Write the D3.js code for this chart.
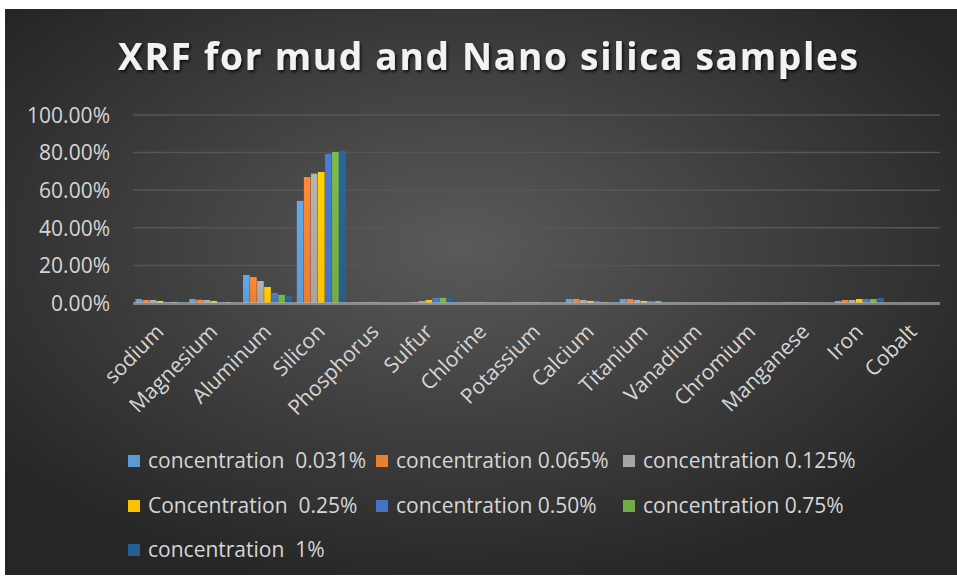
<!DOCTYPE html>
<html>
<head>
<meta charset="utf-8">
<script src="https://cdn.jsdelivr.net/npm/d3@7"></script>
<style>
  html, body { margin: 0; padding: 0; background: #ffffff; }
  svg { display: block; }
  text { font-family: "Open Sans", "Noto Sans", sans-serif; }
</style>
</head>
<body>
<svg id="chart" width="957" height="581"></svg>
<script>
// Elements measured by XRF
const categories = ["sodium", "Magnesium", "Aluminum", "Silicon", "Phosphorus", "Sulfur", "Chlorine",
  "Potassium", "Calcium", "Titanium", "Vanadium", "Chromium", "Manganese", "Iron", "Cobalt"];

// Series names (Nano silica concentration)
const seriesNames = ["concentration  0.031%", "concentration 0.065%", "concentration 0.125%",
  "Concentration  0.25%", "concentration 0.50%", "concentration 0.75%", "concentration  1%"];

// Element fractions for each concentration
const conc0031 = [0.021, 0.021, 0.149, 0.543, 0.002, 0.002, 0.002, 0.002, 0.021, 0.021, 0.001, 0.001, 0.002, 0.011, 0.001];
const conc0065 = [0.016, 0.017, 0.138, 0.670, 0.002, 0.005, 0.002, 0.002, 0.021, 0.021, 0.001, 0.001, 0.002, 0.016, 0.001];
const conc0125 = [0.016, 0.016, 0.117, 0.688, 0.002, 0.010, 0.002, 0.002, 0.016, 0.016, 0.001, 0.001, 0.002, 0.016, 0.001];
const conc025  = [0.011, 0.011, 0.085, 0.697, 0.002, 0.016, 0.002, 0.002, 0.011, 0.011, 0.001, 0.001, 0.002, 0.021, 0.001];
const conc050  = [0.006, 0.005, 0.053, 0.793, 0.001, 0.027, 0.001, 0.001, 0.011, 0.011, 0.001, 0.001, 0.001, 0.021, 0.001];
const conc075  = [0.006, 0.005, 0.043, 0.803, 0.001, 0.027, 0.001, 0.001, 0.005, 0.011, 0.001, 0.001, 0.001, 0.021, 0.001];
const conc1    = [0.005, 0.003, 0.037, 0.809, 0.001, 0.027, 0.001, 0.001, 0.005, 0.006, 0.001, 0.001, 0.001, 0.027, 0.001];

const seriesValues = [conc0031, conc0065, conc0125, conc025, conc050, conc075, conc1];
const seriesColors = ["#5b9bd5", "#ed7d31", "#a5a5a5", "#ffc000", "#4472c4", "#70ad47", "#255e91"];

const yTicks = [0, 0.2, 0.4, 0.6, 0.8, 1.0];
const title = "XRF for mud and Nano silica samples";

const svg = d3.select("#chart");
const W = 957, H = 581;
const defs = svg.append("defs");

// Dark chart-area background with a soft central glow
const bg = defs.append("radialGradient").attr("id", "bgGrad")
  .attr("cx", "48%").attr("cy", "42%").attr("r", "62%");
bg.append("stop").attr("offset", "0%").attr("stop-color", "#5a5a5a");
bg.append("stop").attr("offset", "100%").attr("stop-color", "#262626");
svg.append("rect").attr("x", 5).attr("y", 9).attr("width", W - 5).attr("height", 566)
  .attr("fill", "url(#bgGrad)");

// Subtle vertical shading for bars
seriesColors.forEach((c, i) => {
  const g = defs.append("linearGradient").attr("id", "barGrad" + i)
    .attr("x1", 0).attr("y1", 0).attr("x2", 0).attr("y2", 1);
  g.append("stop").attr("offset", "0%").attr("stop-color", d3.color(c).brighter(0.25));
  g.append("stop").attr("offset", "100%").attr("stop-color", c);
});

// Title shadow
const sh = defs.append("filter").attr("id", "shadow").attr("x", "-10%").attr("y", "-30%")
  .attr("width", "120%").attr("height", "160%");
sh.append("feDropShadow").attr("dx", 1.5).attr("dy", 2).attr("stdDeviation", 1.5)
  .attr("flood-color", "#000").attr("flood-opacity", 0.75);

const plot = { left: 133, right: 940, top: 115, bottom: 303 };

const x0 = d3.scaleBand().domain(categories).range([plot.left, plot.right])
  .paddingInner(0.09).paddingOuter(0.045);
const x1 = d3.scaleBand().domain(d3.range(seriesNames.length)).range([0, x0.bandwidth()])
  .paddingInner(0.06);
const y = d3.scaleLinear().domain([0, 1]).range([plot.bottom, plot.top]);

// Horizontal gridlines
svg.append("g").selectAll("line").data(yTicks.filter(t => t > 0)).join("line")
  .attr("x1", plot.left).attr("x2", plot.right)
  .attr("y1", d => y(d)).attr("y2", d => y(d))
  .attr("stroke", "#565656").attr("stroke-width", 1.5);

// Y axis labels
const yAxis = d3.axisLeft(y).tickValues(yTicks).tickFormat(d3.format(".2%")).tickSize(0).tickPadding(0);
const yg = svg.append("g").attr("transform", `translate(${plot.left - 23},0)`).call(yAxis);
yg.select(".domain").remove();
yg.selectAll("text").attr("fill", "#d6d6d6").attr("font-size", 21)
  .attr("font-family", "'Open Sans', sans-serif").attr("dy", "0.35em");

// Bars
const groups = svg.append("g").selectAll("g").data(categories).join("g")
  .attr("transform", d => `translate(${x0(d)},0)`);
groups.selectAll("rect")
  .data((c, ci) => seriesValues.map((vals, si) => ({ si, v: vals[ci] })))
  .join("rect")
  .attr("x", d => x1(d.si))
  .attr("width", x1.bandwidth())
  .attr("y", d => y(d.v))
  .attr("height", d => y(0) - y(d.v))
  .attr("fill", d => `url(#barGrad${d.si})`);

// Category axis line
svg.append("line").attr("x1", plot.left).attr("x2", plot.right)
  .attr("y1", plot.bottom + 0.5).attr("y2", plot.bottom + 0.5)
  .attr("stroke", "#b8b8b8").attr("stroke-opacity", 0.6).attr("stroke-width", 3);

// Category labels, rotated
svg.append("g").selectAll("text").data(categories).join("text")
  .attr("transform", d => `translate(${x0(d) + x0.bandwidth() / 2 + 5},${plot.bottom + 30}) rotate(-45)`)
  .attr("text-anchor", "end")
  .attr("font-size", 21)
  .attr("fill", "#d6d6d6")
  .text(d => d);

// Title
svg.append("text")
  .attr("x", 488).attr("y", 70)
  .attr("text-anchor", "middle")
  .attr("font-size", 37).attr("font-weight", "bold")
  .attr("fill", "#f2f2f2")
  .attr("textLength", 740).attr("lengthAdjust", "spacing")
  .attr("filter", "url(#shadow)")
  .text(title);

// Legend: three columns, wrapping rows
const legendCols = [128, 376, 623];
const legendRows = [461, 506, 550];
const leg = svg.append("g").selectAll("g").data(seriesNames).join("g")
  .attr("transform", (d, i) => `translate(${legendCols[i % 3]},${legendRows[Math.floor(i / 3)]})`);
leg.append("rect").attr("x", 0).attr("y", -6).attr("width", 12).attr("height", 12)
  .attr("fill", (d, i) => seriesColors[i]);
leg.append("text").attr("x", 20).attr("y", 0).attr("dy", "0.35em")
  .attr("font-size", 21).attr("fill", "#d6d6d6")
  .style("white-space", "pre")
  .text(d => d);
</script>
</body>
</html>
